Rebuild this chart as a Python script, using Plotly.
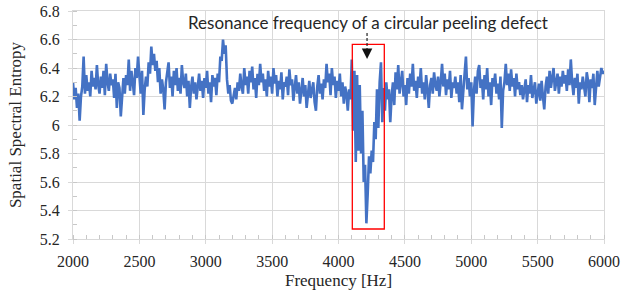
import plotly.graph_objects as go

# Frequency axis: 2000..6000 Hz, 10 Hz step
freq_start = 2000
freq_step = 10

# Spatial spectral entropy values (rows of 100 Hz)
entropy_2000_2990 = [
    6.30, 6.18, 6.26, 6.12, 6.22, 6.03, 6.20, 6.27, 6.48, 6.22,
    6.35, 6.24, 6.30, 6.20, 6.38, 6.27, 6.33, 6.25, 6.42, 6.28,
    6.22, 6.34, 6.26, 6.38, 6.21, 6.43, 6.30, 6.24, 6.36, 6.28,
    6.32, 6.19, 6.36, 6.12, 6.30, 6.26, 6.06, 6.24, 6.33, 6.22,
    6.35, 6.28, 6.46, 6.24, 6.38, 6.30, 6.21, 6.40, 6.33, 6.48,
    6.30, 6.22, 6.38, 6.07, 6.25, 6.34, 6.27, 6.44, 6.36, 6.55,
    6.42, 6.50, 6.38, 6.45, 6.30, 6.40, 6.22, 6.32, 6.25, 6.11,
    6.30, 6.36, 6.44, 6.26, 6.34, 6.20, 6.38, 6.28, 6.40, 6.24,
    6.33, 6.22, 6.42, 6.30, 6.26, 6.36, 6.20, 6.31, 6.12, 6.27,
    6.34, 6.22, 6.30, 6.18, 6.28, 6.36, 6.24, 6.31, 6.19, 6.33,
]
entropy_3000_3990 = [
    6.26, 6.38, 6.22, 6.30, 6.16, 6.35, 6.27, 6.33, 6.21, 6.36,
    6.30, 6.48, 6.45, 6.60, 6.50, 6.56, 6.32, 6.22, 6.28, 6.17,
    6.15, 6.20, 6.26, 6.18, 6.30, 6.24, 6.36, 6.27, 6.22, 6.40,
    6.28, 6.34, 6.22, 6.38, 6.30, 6.41, 6.25, 6.33, 6.19, 6.36,
    6.28, 6.43, 6.30, 6.36, 6.24, 6.32, 6.20, 6.38, 6.27, 6.34,
    6.22, 6.40, 6.29, 6.35, 6.20, 6.31, 6.25, 6.37, 6.18, 6.30,
    6.27, 6.34, 6.21, 6.39, 6.28, 6.32, 6.17, 6.26, 6.35, 6.22,
    6.30, 6.15, 6.27, 6.33, 6.20, 6.28, 6.12, 6.25, 6.31, 6.19,
    6.24, 6.30, 6.16, 6.10, 6.27, 6.35, 6.22, 6.29, 6.18, 6.32,
    6.26, 6.43, 6.30, 6.36, 6.21, 6.40, 6.28, 6.34, 6.19, 6.31,
]
entropy_4000_4990 = [
    6.24, 6.36, 6.20, 6.30, 6.15, 6.27, 6.22, 6.10, 6.25, 6.18,
    6.46, 5.96, 6.38, 5.74, 6.35, 5.82, 6.28, 5.80, 6.10, 5.60,
    5.72, 5.31, 5.52, 5.78, 5.66, 5.82, 5.74, 6.02, 5.90, 6.25,
    5.98, 6.30, 6.44, 6.02, 6.26, 6.10, 6.30, 6.18, 6.25, 6.02,
    6.20, 6.30, 6.14, 6.37, 6.25, 6.42, 6.22, 6.32, 6.38, 6.20,
    6.28, 6.14, 6.33, 6.22, 6.36, 6.27, 6.43, 6.24, 6.31, 6.19,
    6.34, 6.26, 6.40, 6.22, 6.30, 6.18, 6.35, 6.25, 6.12, 6.28,
    6.33, 6.22, 6.37, 6.28, 6.24, 6.34, 6.20, 6.30, 6.43, 6.27,
    6.36, 6.21, 6.32, 6.25, 6.38, 6.19, 6.30, 6.26, 6.34, 6.22,
    6.30, 6.16, 6.35, 6.11, 6.28, 6.36, 6.48, 6.25, 6.33, 6.20,
]
entropy_5000_6000 = [
    6.30, 5.99, 6.24, 6.34, 6.22, 6.38, 6.42, 6.26, 6.32, 6.18,
    6.35, 6.25, 6.40, 6.20, 6.30, 6.14, 6.33, 6.27, 6.36, 6.22,
    6.29, 6.18, 6.34, 5.98, 6.24, 6.30, 6.43, 6.28, 6.36, 6.24,
    6.39, 6.27, 6.33, 6.20, 6.36, 6.25, 6.30, 6.21, 6.28, 6.18,
    6.25, 6.32, 6.16, 6.28, 6.22, 6.35, 6.19, 6.26, 6.30, 6.15,
    6.24, 6.29, 6.17, 6.31, 6.20, 6.11, 6.27, 6.34, 6.22, 6.38,
    6.26, 6.33, 6.40, 6.24, 6.30, 6.36, 6.22, 6.34, 6.27, 6.38,
    6.29, 6.35, 6.24, 6.39, 6.28, 6.46, 6.30, 6.21, 6.33, 6.26,
    6.36, 6.15, 6.30, 6.25, 6.34, 6.28, 6.20, 6.37, 6.31, 6.16,
    6.32, 6.26, 6.36, 6.14, 6.30, 6.38, 6.27, 6.34, 6.40, 6.36,
    6.38,
]

entropy = entropy_2000_2990 + entropy_3000_3990 + entropy_4000_4990 + entropy_5000_6000
frequency = [freq_start + i * freq_step for i in range(len(entropy))]

x_ticks = [2000, 2500, 3000, 3500, 4000, 4500, 5000, 5500, 6000]
y_ticks = [5.2, 5.4, 5.6, 5.8, 6.0, 6.2, 6.4, 6.6, 6.8]
y_tick_labels = ["5.2", "5.4", "5.6", "5.8", "6", "6.2", "6.4", "6.6", "6.8"]

# Highlighted region (resonance) and annotation
box_freq = [4104, 4345]
box_entropy = [5.27, 6.566]
arrow_freq = 4215
annotation_text = "Resonance frequency of a circular peeling defect"

grid = "#d9d9d9"
serif = "Times New Roman, Liberation Serif, serif"
txt = "#262626"

fig = go.Figure()
fig.add_trace(go.Scatter(
    x=frequency, y=entropy, mode="lines",
    line=dict(color="#4472C4", width=2.6),
    showlegend=False, hoverinfo="skip",
))

fig.add_shape(type="rect", xref="x", yref="y",
              x0=box_freq[0], x1=box_freq[1], y0=box_entropy[0], y1=box_entropy[1],
              line=dict(color="#ff0000", width=1.3))
fig.add_shape(type="line", xref="x", yref="y",
              x0=arrow_freq, x1=arrow_freq, y0=6.646, y1=6.505,
              line=dict(color="#222222", width=1.2, dash="3px,2px"))
fig.add_annotation(x=arrow_freq, y=6.463, ax=arrow_freq, ay=6.51,
                   xref="x", yref="y", axref="x", ayref="y",
                   text="", showarrow=True, arrowhead=2, arrowsize=1.4,
                   arrowwidth=1.5, arrowcolor="#111111")
fig.add_annotation(x=4222, y=6.716, xref="x", yref="y", text=annotation_text,
                   showarrow=False, font=dict(family="Lato", size=17, color=txt))

fig.update_layout(
    width=630, height=290,
    margin=dict(l=73, r=26, t=11, b=51),
    paper_bgcolor="white", plot_bgcolor="white",
    font=dict(family=serif, size=15, color=txt),
)
fig.update_xaxes(
    range=[2000, 6000], tickvals=x_ticks,
    showgrid=True, gridcolor=grid, gridwidth=1,
    showline=True, linecolor=grid, linewidth=1, mirror=True,
    ticks="outside", ticklen=4, tickcolor=grid, ticklabelstandoff=4,
    tickfont=dict(family=serif, size=16, color=txt),
    minor=dict(dtick=100, ticks="inside", ticklen=4, tickcolor="#c8c8c8", showgrid=False),
    title=dict(text="Frequency [Hz]", font=dict(family=serif, size=17, color=txt), standoff=5),
    zeroline=False, automargin=False,
)
fig.update_yaxes(
    range=[5.2, 6.8], tickvals=y_ticks, ticktext=y_tick_labels,
    showgrid=True, gridcolor=grid, gridwidth=1,
    showline=True, linecolor=grid, linewidth=1, mirror=True,
    ticks="outside", ticklen=4, tickcolor=grid, ticklabelstandoff=5,
    tickfont=dict(family=serif, size=16, color=txt),
    minor=dict(dtick=0.1, ticks="inside", ticklen=4, tickcolor="#c8c8c8", showgrid=False),
    title=dict(text="Spatial Spectral Entropy", font=dict(family=serif, size=17, color=txt), standoff=13),
    zeroline=False, automargin=False,
)

# Remove the default 8px page margin so the figure sits at the window origin
fig.write_html("out.html", config={"displayModeBar": False},
               post_script="document.body.style.margin='0';")
